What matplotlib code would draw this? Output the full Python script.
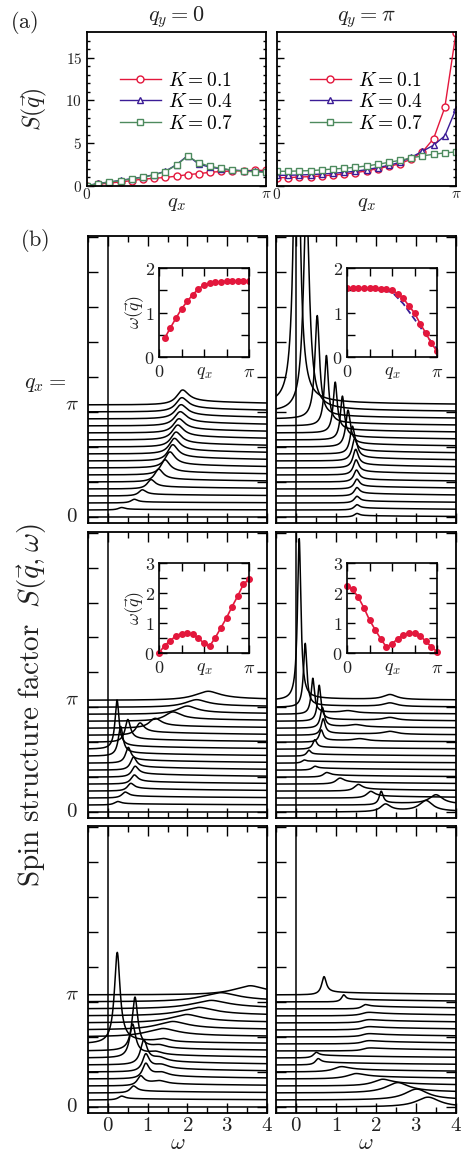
import matplotlib
matplotlib.use("Agg")
import matplotlib.pyplot as plt
import numpy as np

plt.rcParams['mathtext.fontset'] = 'cm'
plt.rcParams['font.family'] = ['DejaVu Serif']

# ---------------- panel (a) data: static structure factor ----------------
qx = np.arange(17) * np.pi / 16
K_labels = [r'$K=0.1$', r'$K=0.4$', r'$K=0.7$']
S_qy0_K01 = [0.04, 0.2, 0.35, 0.47, 0.64, 0.8, 0.9, 1.0, 1.15, 1.33, 1.45, 1.6, 1.7, 1.75, 1.8, 1.83, 1.83]
S_qy0_K04 = [0.04, 0.3, 0.47, 0.66, 0.86, 1.05, 1.33, 1.72, 2.5, 3.55, 2.55, 2.2, 2.0, 1.85, 1.8, 1.75, 1.65]
S_qy0_K07 = [0.04, 0.28, 0.45, 0.63, 0.83, 1.02, 1.3, 1.68, 2.45, 3.5, 2.7, 2.3, 2.05, 1.85, 1.75, 1.65, 1.6]
S_qyp_K01 = [0.98, 0.98, 1.05, 1.1, 1.17, 1.29, 1.4, 1.56, 1.76, 2.03, 2.3, 2.6, 3.16, 3.98, 5.55, 9.18, 17.9]
S_qyp_K04 = [1.25, 1.25, 1.29, 1.33, 1.4, 1.48, 1.6, 1.72, 1.91, 2.15, 2.42, 2.77, 3.36, 4.06, 4.77, 5.86, 9.02]
S_qyp_K07 = [1.72, 1.72, 1.76, 1.8, 1.88, 1.99, 2.07, 2.19, 2.34, 2.54, 2.77, 3.0, 3.28, 3.52, 3.71, 3.87, 3.98]

# ---------------- insets: dispersion omega(q) ----------------
disp1L = [0.42, 0.65, 0.87, 1.08, 1.25, 1.4, 1.53, 1.62, 1.66, 1.68, 1.69, 1.7, 1.7, 1.7, 1.7, 1.7]   # starts at q=pi/16
disp1R = [1.55, 1.55, 1.55, 1.54, 1.54, 1.54, 1.53, 1.52, 1.5, 1.42, 1.32, 1.15, 0.99, 0.75, 0.54, 0.31, 0.13]
disp1R_lsw = [1.53, 1.53, 1.52, 1.5, 1.46, 1.2, 0.85, 0.5, 0.18]   # dashed curve, q = 0..pi step pi/8
disp2L = [0.0, 0.25, 0.41, 0.57, 0.65, 0.67, 0.62, 0.5, 0.32, 0.23, 0.51, 0.84, 1.17, 1.55, 1.9, 2.29, 2.46]
disp2R = [2.23, 2.12, 1.86, 1.51, 1.1, 0.78, 0.47, 0.2, 0.3, 0.48, 0.61, 0.67, 0.66, 0.56, 0.4, 0.2, 0.05]

# ---------------- panel (b): peaks (q index 0..16) ----------------
r1L_pos = [0.30, 0.34, 0.66, 0.86, 1.08, 1.27, 1.43, 1.55, 1.62, 1.66, 1.70, 1.74, 1.77, 1.80, 1.82, 1.84, 1.86]
r1L_amp = [0.0, 0.3, 0.45, 0.75, 1.15, 1.6, 1.9, 2.0, 2.0, 1.9, 1.8, 1.8, 1.7, 1.7, 1.7, 1.7, 1.8]
r1L_wid = [0.10, 0.10, 0.10, 0.11, 0.12, 0.13, 0.14, 0.15, 0.15, 0.16, 0.16, 0.17, 0.17, 0.18, 0.18, 0.18, 0.18]
r1L_tail = [0.0, 0.1, 0.15, 0.25, 0.35, 0.45, 0.5, 0.55, 0.6, 0.6, 0.6, 0.6, 0.6, 0.6, 0.6, 0.6, 0.6]

r1R_pos = [1.52, 1.52, 1.52, 1.52, 1.52, 1.51, 1.50, 1.49, 1.47, 1.41, 1.30, 1.16, 0.98, 0.76, 0.53, 0.26, 0.02]
r1R_amp = [0.4, 0.6, 0.8, 1.0, 1.2, 1.5, 1.9, 2.4, 3.0, 3.7, 5.0, 6.0, 7.0, 9.8, 14.5, 30.0, 60.0]
r1R_wid = [0.08, 0.08, 0.08, 0.08, 0.08, 0.08, 0.08, 0.08, 0.08, 0.07, 0.07, 0.06, 0.06, 0.06, 0.07, 0.09, 0.075]
r1R_tail = [0.2, 0.3, 0.3, 0.4, 0.4, 0.4, 0.5, 0.5, 0.5, 0.5, 0.5, 0.5, 0.5, 0.5, 0.5, 0.5, 0.5]

r2L_pos = [0.0, 0.24, 0.43, 0.57, 0.66, 0.68, 0.64, 0.51, 0.32, 0.23, 0.50, 0.80, 1.17, 1.60, 1.95, 2.17, 2.46]
r2L_amp = [0.0, 0.4, 0.7, 0.9, 1.1, 1.3, 1.6, 2.0, 4.0, 6.8, 3.0, 1.5, 1.2, 1.1, 1.0, 0.9, 1.1]
r2L_wid = [0.1, 0.1, 0.1, 0.1, 0.1, 0.1, 0.09, 0.08, 0.07, 0.06, 0.08, 0.12, 0.18, 0.25, 0.3, 0.35, 0.4]
r2L_tail = [0.0, 0.2, 0.3, 0.4, 0.4, 0.5, 0.5, 0.5, 0.5, 0.5, 0.5, 0.5, 0.4, 0.4, 0.3, 0.3, 0.3]

r2R_pos = [2.23, 2.13, 1.86, 1.55, 1.09, 0.76, 0.47, 0.20, 0.32, 0.47, 0.63, 0.68, 0.66, 0.58, 0.42, 0.23, 0.08]
r2R_amp = [1.0, 1.8, 0.8, 0.8, 0.7, 0.5, 0.4, 0.3, 0.7, 1.2, 1.6, 2.2, 2.8, 5.0, 5.0, 9.0, 23.0]
r2R_wid = [0.15, 0.06, 0.12, 0.12, 0.12, 0.1, 0.08, 0.06, 0.06, 0.06, 0.06, 0.06, 0.06, 0.05, 0.05, 0.05, 0.05]
r2R_tail = [0.2, 0.3, 0.3, 0.3, 0.3, 0.3, 0.3, 0.3, 0.3, 0.3, 0.3, 0.3, 0.3, 0.3, 0.3, 0.3, 0.3]
r2R_pos2 = [3.25, 3.5, 0, 0, 0, 0, 0, 0, 0, 0, 1.6, 2.35, 1.5, 2.35, 1.3, 2.35, 2.35]
r2R_amp2 = [1.5, 1.3, 0, 0, 0, 0, 0, 0, 0, 0, 0.3, 0.4, 0.3, 0.4, 0.3, 0.5, 0.7]

r3L_pos = [0.0, 0.34, 0.64, 0.82, 0.95, 0.95, 0.90, 0.62, 0.68, 0.235, 1.30, 1.55, 1.90, 2.20, 2.50, 2.75, 3.50]
r3L_amp = [0.0, 0.45, 0.85, 1.2, 1.9, 2.2, 3.2, 4.5, 7.4, 12.8, 1.0, 1.0, 1.0, 1.0, 1.0, 1.1, 1.1]
r3L_wid = [0.1, 0.1, 0.1, 0.1, 0.1, 0.1, 0.1, 0.09, 0.085, 0.085, 0.5, 0.5, 0.5, 0.55, 0.6, 0.6, 0.5]
r3L_tail = [0.0, 0.2, 0.3, 0.4, 0.5, 0.6, 0.6, 0.6, 0.5, 0.5, 0.3, 0.3, 0.3, 0.3, 0.3, 0.3, 0.3]
r3L_pos2 = [0, 0, 0, 1.3, 1.35, 1.35, 1.3, 1.2, 1.3, 1.4, 0, 0, 0, 0, 0, 0, 0]
r3L_amp2 = [0, 0, 0, 0.4, 0.5, 0.5, 0.5, 0.4, 0.4, 0.4, 0, 0, 0, 0, 0, 0, 0]

r3R_pos = [3.30, 3.00, 2.50, 2.10, 1.42, 1.07, 0.55, 0.50, 1.70, 1.70, 1.70, 1.70, 1.70, 1.70, 1.72, 1.19, 0.70]
r3R_amp = [1.4, 1.5, 1.3, 0.7, 0.5, 0.5, 0.7, 0.6, 0.1, 0.15, 0.15, 0.15, 0.15, 0.2, 0.4, 0.8, 2.4]
r3R_wid = [0.35, 0.35, 0.35, 0.3, 0.3, 0.25, 0.08, 0.08, 0.3, 0.3, 0.3, 0.3, 0.3, 0.3, 0.1, 0.06, 0.07]
r3R_tail = [0.0, 0.1, 0.3, 0.4, 0.4, 0.4, 0.4, 0.4, 0.4, 0.4, 0.4, 0.4, 0.4, 0.4, 0.4, 0.4, 0.4]

RED = '#e3173c'
PURPLE = '#3b1c96'
GREEN = '#4d8a5e'
TXT = '#222222'

W, H = 463, 1159
fig = plt.figure(figsize=(W / 100, H / 100), dpi=100)


def px_axes(x0, y0, x1, y1):
    return fig.add_axes([x0 / W, 1 - y1 / H, (x1 - x0) / W, (y1 - y0) / H])


def style(ax, lw=1.3):
    for s in ax.spines.values():
        s.set_linewidth(lw)
    ax.tick_params(which='both', direction='in', top=True, right=True, colors='black',
                   labelcolor=TXT, width=1.0)


# ---------------- (a) ----------------
axA1 = px_axes(87, 32, 266, 186)
axA2 = px_axes(277, 32, 456, 186)
for ax, ys, title in [(axA1, (S_qy0_K01, S_qy0_K04, S_qy0_K07), r'$q_y=0$'),
                      (axA2, (S_qyp_K01, S_qyp_K04, S_qyp_K07), r'$q_y=\pi$')]:
    ax.plot(qx, ys[0], '-o', color=RED, mfc='white', ms=5, lw=1.0, mew=1.0, label=K_labels[0])
    ax.plot(qx, ys[1], '-^', color=PURPLE, mfc='white', ms=5, lw=1.0, mew=1.0, label=K_labels[1])
    ax.plot(qx, ys[2], '-s', color=GREEN, mfc='white', ms=4.5, lw=1.0, mew=1.0, label=K_labels[2])
    ax.set_xlim(0, np.pi)
    ax.set_ylim(0, 18)
    style(ax)
    ax.set_yticks([0, 5, 10, 15])
    ax.set_yticks(np.arange(0, 18, 1), minor=True)
    ax.tick_params(which='major', length=5)
    ax.tick_params(which='minor', length=2.5)
    ax.set_xticks([0, np.pi])
    ax.set_xticklabels([r'$0$', r'$\pi$'], fontsize=11)
    ax.tick_params(axis='x', length=0, pad=1)
    ax.set_title(title, fontsize=16, color=TXT, pad=8)
    ax.set_xlabel(r'$q_x$', fontsize=15, color=TXT, labelpad=-6)
    ax.legend(loc='upper center', bbox_to_anchor=(0.5, 0.83), frameon=False, fontsize=14,
              handlelength=2.1, handletextpad=0.4, labelspacing=0.18, borderpad=0.2)
axA1.set_yticklabels([r'$0$', r'$5$', r'$10$', r'$15$'], fontsize=11)
axA1.set_ylabel(r'$S(\vec{q})$', fontsize=17, color=TXT, labelpad=12)
axA2.set_yticklabels([])
fig.text(10 / W, 1 - 22 / H, r'$\mathrm{(a)}$', fontsize=16, color=TXT, va='center')

# ---------------- (b) ----------------
w = np.linspace(-0.5, 4.0, 1500)


def spectrum(pos, amp, wid, tail, pos2=0.0, amp2=0.0):
    s = amp * wid ** 2 / ((w - pos) ** 2 + wid ** 2)
    s = s + tail / (1 + np.exp(-(w - pos) / 0.06)) * np.exp(-(w - pos) / 2.5)
    if amp2 > 0:
        s = s + amp2 * 0.04 / ((w - pos2) ** 2 + 0.04)
    return s


panels = [
    ((88, 236, 267, 523), r1L_pos, r1L_amp, r1L_wid, r1L_tail, None, None),
    ((276, 236, 456, 523), r1R_pos, r1R_amp, r1R_wid, r1R_tail, None, None),
    ((88, 532, 267, 818), r2L_pos, r2L_amp, r2L_wid, r2L_tail, None, None),
    ((276, 532, 456, 818), r2R_pos, r2R_amp, r2R_wid, r2R_tail, r2R_pos2, r2R_amp2),
    ((88, 826, 267, 1113), r3L_pos, r3L_amp, r3L_wid, r3L_tail, r3L_pos2, r3L_amp2),
    ((276, 826, 456, 1113), r3R_pos, r3R_amp, r3R_wid, r3R_tail, None, None),
]
axesB = []
for k, (box, pos, amp, wid, tail, pos2, amp2) in enumerate(panels):
    ax = px_axes(*box)
    axesB.append(ax)
    for i in range(17):
        p2 = pos2[i] if pos2 else 0.0
        a2 = amp2[i] if amp2 else 0.0
        ax.plot(w, i + spectrum(pos[i], amp[i], wid[i], tail[i], p2, a2), color='black', lw=1.1)
    ax.axvline(0, color='black', lw=1.1)
    ax.set_xlim(-0.5, 4)
    ax.set_ylim(-0.86, 40.1)
    style(ax)
    ax.set_xticks([0, 1, 2, 3, 4])
    ax.set_xticks(np.arange(-0.5, 4.01, 0.5), minor=True)
    ax.set_yticks(np.arange(0, 41, 5))
    ax.tick_params(which='major', length=7)
    ax.tick_params(which='minor', length=4)
    ax.set_yticklabels([])
    if k >= 4:
        ax.set_xticklabels([r'$0$', r'$1$', r'$2$', r'$3$', r'$4$'], fontsize=15)
        ax.tick_params(axis='x', pad=2)
        ax.set_xlabel(r'$\omega$', fontsize=16, color=TXT, labelpad=-2)
    else:
        ax.set_xticklabels([])
    if k % 2 == 0:
        for yv, lab in [(0, r'$0$'), (16, r'$\pi$')]:
            ax.text(-0.09, yv, lab, transform=ax.get_yaxis_transform(), fontsize=15,
                    ha='center', va='center', color=TXT)

fig.text(20 / W, 1 - 240 / H, r'$\mathrm{(b)}$', fontsize=16, color=TXT, va='center')
fig.text(45 / W, 1 - 383 / H, r'$q_x=$', fontsize=16, color=TXT, ha='center', va='center')
fig.text(32 / W, 1 - 705 / H, r'$\mathrm{Spin\ structure\ factor}\ \ S(\vec{q},\omega)$', fontsize=21,
         color=TXT, rotation=90, ha='center', va='center')


# ---------------- insets ----------------
def inset(box, ymax, show_ylabel):
    ax = px_axes(*box)
    style(ax, lw=1.2)
    ax.set_xlim(0, np.pi)
    ax.set_ylim(0, ymax)
    ax.set_yticks(np.arange(0, ymax + 0.01, 0.5))
    ax.set_yticklabels([r'$%d$' % v if v == int(v) else '' for v in np.arange(0, ymax + 0.01, 0.5)], fontsize=13)
    ax.set_xticks([0, np.pi / 4, np.pi / 2, 3 * np.pi / 4, np.pi])
    ax.set_xticklabels([r'$0$', '', r'$q_x$', '', r'$\pi$'], fontsize=13)
    ax.tick_params(which='major', length=6)
    ax.tick_params(axis='x', pad=4)
    ax.tick_params(axis='y', pad=3)
    if show_ylabel:
        ax.set_ylabel(r'$\omega(\vec{q})$', fontsize=13, color=TXT, labelpad=-1)
    return ax


inA = inset((159, 268, 249, 357), 2, True)
inA.plot(qx[1:], disp1L, '-o', color=RED, ms=4, lw=1.2)
inB = inset((347, 268, 437, 357), 2, False)
inB.plot(np.arange(9) * np.pi / 8, disp1R_lsw, '--', color=PURPLE, lw=1.3)
inB.plot(qx, disp1R, '-o', color=RED, ms=4, lw=1.2)
inC = inset((159, 563, 249, 653), 3, True)
inC.plot(qx, disp2L, '-o', color=RED, ms=4, lw=1.2, clip_on=False)
inD = inset((347, 563, 437, 653), 3, False)
inD.plot(qx, disp2R, '-o', color=RED, ms=4, lw=1.2, clip_on=False)

fig.savefig('out.png', dpi=100)
